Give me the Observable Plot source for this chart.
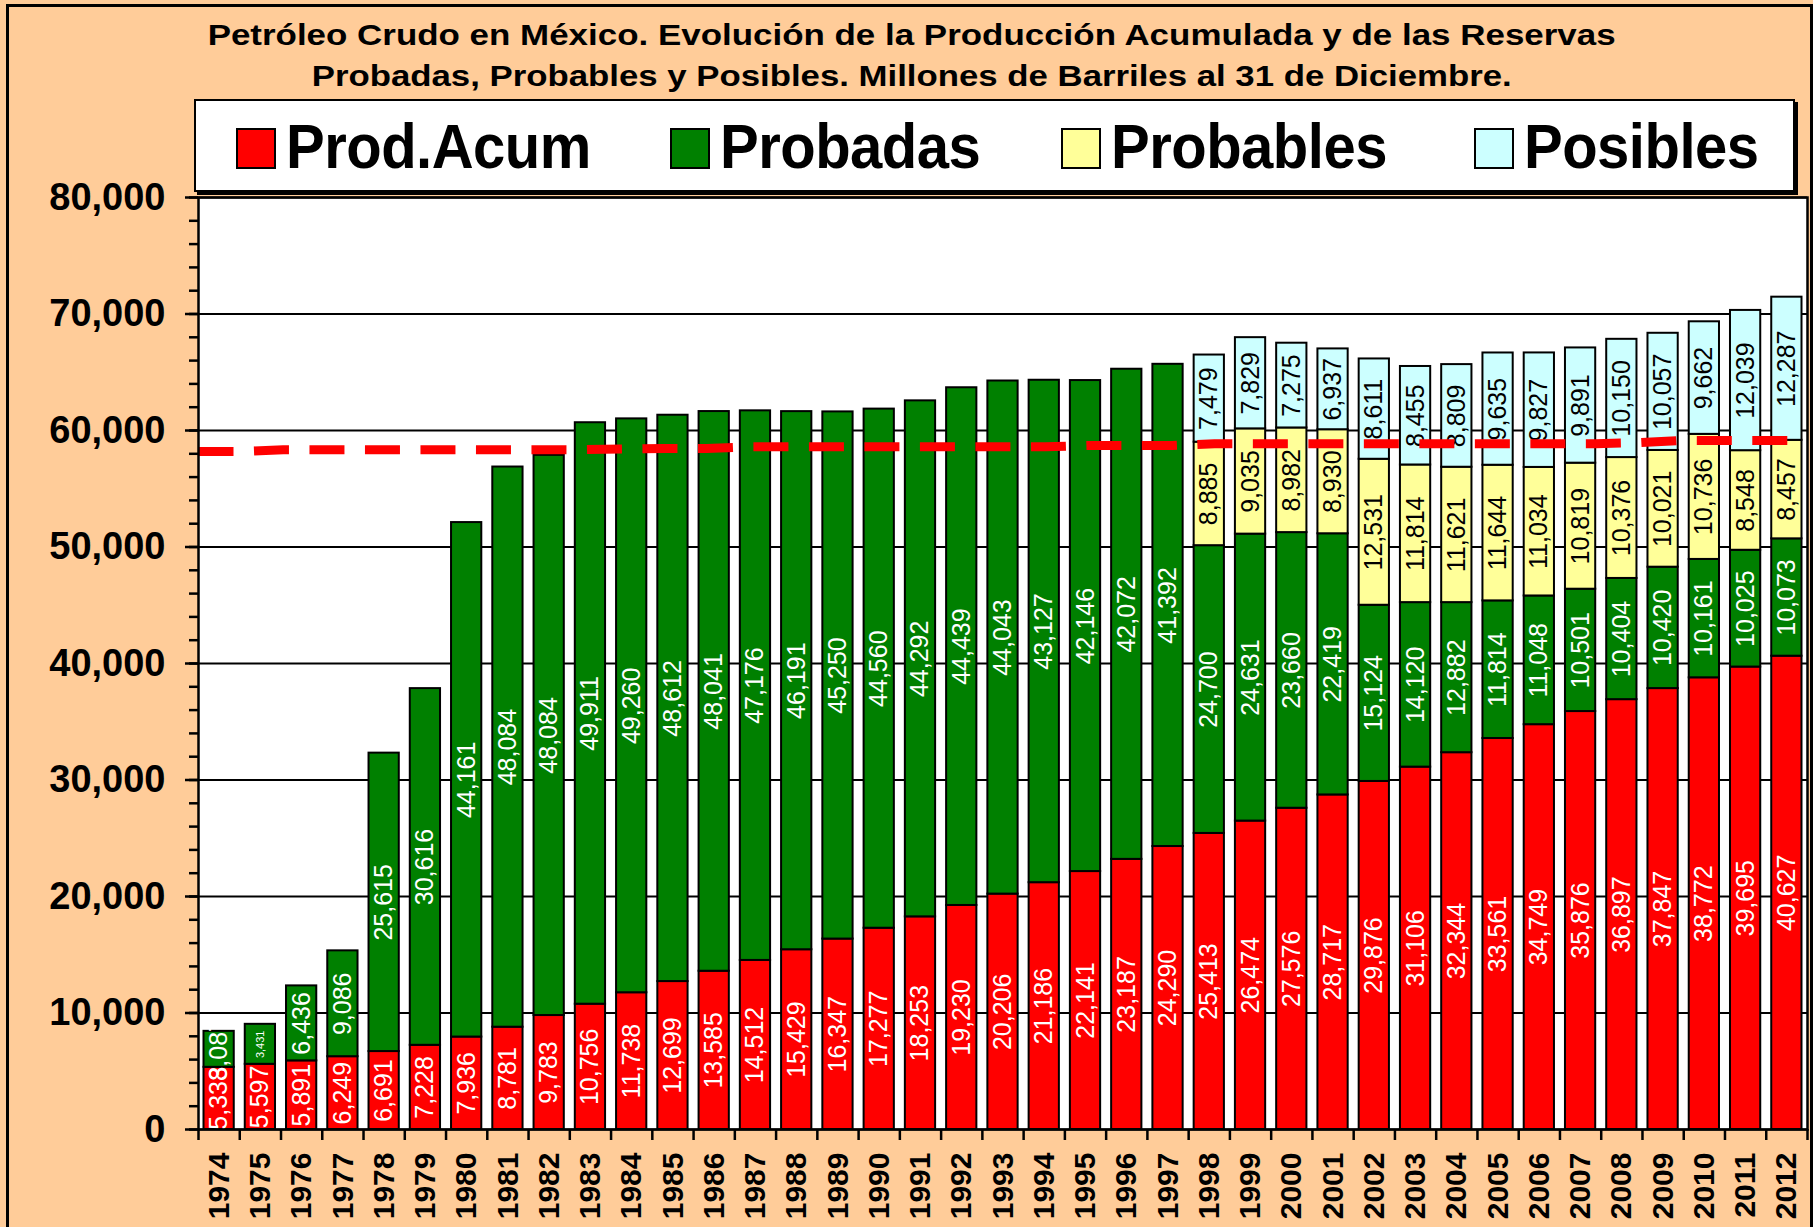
<!DOCTYPE html>
<html>
<head>
<meta charset="utf-8">
<script src="https://cdn.jsdelivr.net/npm/d3@7"></script>
<script src="https://cdn.jsdelivr.net/npm/@observablehq/plot@0.6"></script>
<style>
html,body{margin:0;padding:0;background:#FFCC99;overflow:hidden}
#wrap{position:relative;width:1813px;height:1227px;background:#FFCC99;font-family:"Liberation Sans",Arial,sans-serif;overflow:hidden}
#chart{position:absolute;left:0;top:0}
.t{position:absolute;left:5px;width:1813px;text-align:center;font-weight:bold;font-size:30px;line-height:34px;white-space:nowrap}
.t span{display:inline-block;transform-origin:center}
#legend{position:absolute;left:194px;top:99px;width:1597px;height:89px;background:#fff;border:2px solid #000;box-shadow:3px 3px 0 #000}
.item{position:absolute;top:0;height:89px;display:flex;align-items:center}
.sw{width:36px;height:37px;border:2px solid #000;margin-right:10px;margin-top:6px}
.lab{font-size:58px;font-weight:bold;letter-spacing:-0.5px;transform:scaleY(1.1)}
#border{position:absolute;left:6px;top:4px;width:1801px;height:1400px;border:3px solid #000;pointer-events:none}
</style>
</head>
<body>
<div id="wrap">
  <div id="chart"></div>
  <div class="t" id="t1" style="top:18px"><span>Petróleo Crudo en México. Evolución de la Producción Acumulada y de las Reservas</span></div>
  <div class="t" id="t2" style="top:59px"><span>Probadas, Probables y Posibles. Millones de Barriles al 31 de Diciembre.</span></div>
  <div id="legend"></div>
  <div id="border"></div>
</div>
<script>
// ---------------- DATA ----------------
const years = [1974,1975,1976,1977,1978,1979,1980,1981,1982,1983,1984,1985,1986,1987,1988,1989,1990,1991,1992,1993,1994,1995,1996,1997,1998,1999,2000,2001,2002,2003,2004,2005,2006,2007,2008,2009,2010,2011,2012];
const prodAcum = [5338,5597,5891,6249,6691,7228,7936,8781,9783,10756,11738,12699,13585,14512,15429,16347,17277,18253,19230,20206,21186,22141,23187,24290,25413,26474,27576,28717,29876,31106,32344,33561,34749,35876,36897,37847,38772,39695,40627];
const probadas = [3087,3431,6436,9086,25615,30616,44161,48084,48084,49911,49260,48612,48041,47176,46191,45250,44560,44292,44439,44043,43127,42146,42072,41392,24700,24631,23660,22419,15124,14120,12882,11814,11048,10501,10404,10420,10161,10025,10073];
const yearsPP = [1998,1999,2000,2001,2002,2003,2004,2005,2006,2007,2008,2009,2010,2011,2012];
const probables = [8885,9035,8982,8930,12531,11814,11621,11644,11034,10819,10376,10021,10736,8548,8457];
const posibles = [7479,7829,7275,6937,8611,8455,8809,9635,9827,9891,10150,10057,9662,12039,12287];
// dashed red reference line (one value per year)
const lineaRef = [58200,58200,58350,58350,58350,58350,58350,58350,58350,58350,58420,58450,58450,58600,58600,58600,58600,58600,58600,58600,58600,58710,58710,58710,58870,58870,58870,58870,58870,58870,58870,58870,58870,58870,58950,59140,59140,59140,59140];
const seriesNames = ["Prod.Acum","Probadas","Probables","Posibles"];
const seriesColors = ["#FF0000","#008000","#FFFF99","#CCFFFF"];
const yTicks = [0,10000,20000,30000,40000,50000,60000,70000,80000];

// ---------------- BUILD ----------------
const seriesList = [
  {name:"Prod.Acum", yrs: years, vals: prodAcum},
  {name:"Probadas", yrs: years, vals: probadas},
  {name:"Probables", yrs: yearsPP, vals: probables},
  {name:"Posibles", yrs: yearsPP, vals: posibles}
];
const rows = [];
for (const yr of years) {
  let base = 0;
  for (const s of seriesList) {
    const j = s.yrs.indexOf(yr);
    if (j < 0) continue;
    const v = s.vals[j];
    rows.push({year: yr, serie: s.name, value: v, y1: base, y2: base + v});
    base += v;
  }
}
const fmt = d3.format(",");
const whiteRows = rows.filter(d => d.serie === "Prod.Acum" || d.serie === "Probadas");
const blackRows = rows.filter(d => d.serie === "Probables" || d.serie === "Posibles");
const minorTicks = d3.range(0, 80001, 2000);
const bandEdges = years.concat([2013]);

const chart = Plot.plot({
  width: 1813, height: 1227,
  marginLeft: 198, marginRight: 6, marginTop: 197, marginBottom: 98,
  style: {background: "transparent", fontFamily: "Liberation Sans, Arial, sans-serif", overflow: "visible"},
  x: {type: "linear", domain: [1974, 2013], axis: null, label: null},
  y: {domain: [0, 80000], axis: null, label: null},
  color: {domain: seriesNames, range: seriesColors},
  marks: [
    Plot.frame({fill: "white"}),
    Plot.gridY({ticks: yTicks, stroke: "black", strokeOpacity: 1, strokeWidth: 2}),
    Plot.rect(rows, {x1: "year", x2: d => d.year + 1, y1: "y1", y2: "y2", fill: "serie", stroke: "black", strokeWidth: 2, insetLeft: 5.5, insetRight: 5.5}),
    Plot.text(whiteRows, {x: d => d.year + 0.5, y: d => (d.y1 + d.y2) / 2, text: d => fmt(d.value), rotate: -90, fill: "white",
      fontSize: d => (d.year === 1975 && d.serie === "Probadas") ? 11 : 25, clip: true}),
    Plot.text(blackRows, {x: d => d.year + 0.5, y: d => (d.y1 + d.y2) / 2, text: d => fmt(d.value), rotate: -90, fill: "black",
      fontSize: 25, clip: true}),
    Plot.line(years, {x: (d, i) => 1974 + i * 39 / 38, y: (d, i) => lineaRef[i], stroke: "#FF0000", strokeWidth: 9, strokeDasharray: "35,20.5", strokeLinecap: "butt"}),
    Plot.frame({stroke: "black", strokeWidth: 2.5}),
    Plot.axisY({ticks: minorTicks, tickSize: 9, tickFormat: () => "", strokeWidth: 2.5, stroke: "black", label: null}),
    Plot.axisY({ticks: yTicks, tickSize: 13, tickPadding: 20, tickFormat: fmt, strokeWidth: 2.5, stroke: "black", fontSize: 38, fontWeight: "bold", fill: "black", label: null}),
    Plot.axisX({ticks: bandEdges, tickSize: 11, tickFormat: () => "", strokeWidth: 2.5, stroke: "black", label: null}),
    Plot.axisX({ticks: years.map(d => d + 0.5), tickSize: 0, tickPadding: 23, tickFormat: d => String(d - 0.5), tickRotate: -90,
      textAnchor: "end", lineAnchor: "middle", fontSize: 30, fontWeight: "bold", fill: "black", label: null})
  ]
});
document.getElementById("chart").appendChild(chart);

// legend
const legendX = [40, 474, 865, 1278];
const legend = document.getElementById("legend");
seriesNames.forEach((n, i) => {
  const it = document.createElement("div");
  it.className = "item";
  it.style.left = legendX[i] + "px";
  it.innerHTML = `<div class="sw" style="background:${seriesColors[i]}"></div><div class="lab">${n}</div>`;
  legend.appendChild(it);
});

// fit title widths
[["t1", 1408], ["t2", 1200]].forEach(([id, target]) => {
  const sp = document.querySelector("#" + id + " span");
  const w = sp.getBoundingClientRect().width;
  sp.style.transform = `scaleX(${target / w})`;
});
</script>
</body>
</html>
